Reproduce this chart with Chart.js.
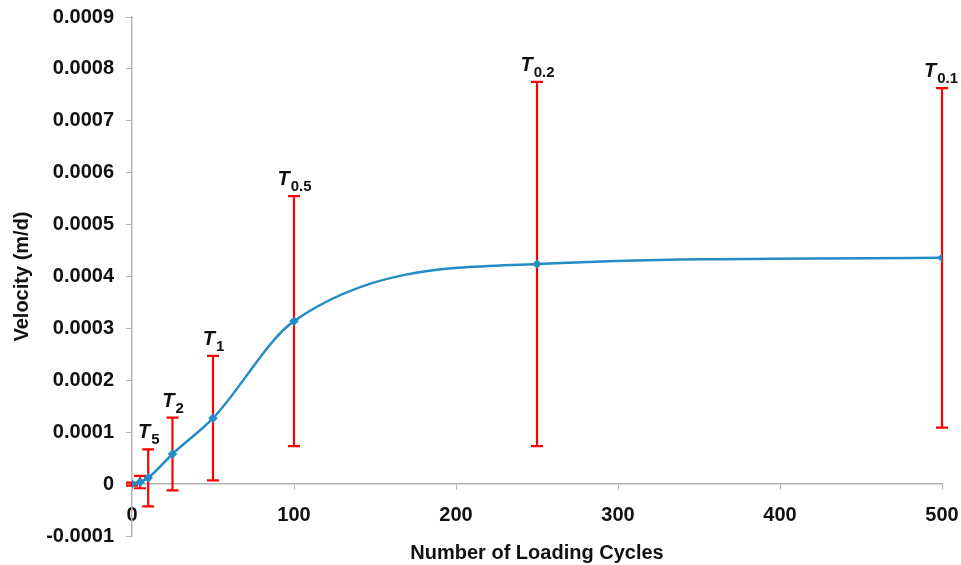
<!DOCTYPE html>
<html>
<head>
<meta charset="utf-8">
<script src="https://cdn.jsdelivr.net/npm/chart.js@4.4.1/dist/chart.umd.min.js"></script>
<style>
  body { margin: 0; background: #fff; }
  #wrap { width: 961px; height: 565px; }
</style>
</head>
<body>
<div id="wrap"><canvas id="velocity-chart"></canvas></div>
<script>
var cycles = [0, 5, 10, 25, 50, 100, 250, 500];
var velocity = [0, 0.000004, 0.000012, 0.000058, 0.000127, 0.000314, 0.000424, 0.000436];
var velocityError = [0.000003, 0.000012, 0.000055, 0.00007, 0.00012, 0.000241, 0.000351, 0.000327];
var periodLabels = ['', '', '5', '2', '1', '0.5', '0.2', '0.1'];

var xTicks = [0, 100, 200, 300, 400, 500];
var yTicks = [-0.0001, 0, 0.0001, 0.0002, 0.0003, 0.0004, 0.0005, 0.0006, 0.0007, 0.0008, 0.0009];

var fontFamily = '"Liberation Sans", Arial, sans-serif';
var axisGray = '#b3b3b3';

// red error bars under the curve, T labels above each bar
var errorBars = {
    id: 'errorBars',
    beforeDatasetsDraw: function (chart) {
        var ctx = chart.ctx;
        var xs = chart.scales.x;
        var ys = chart.scales.y;
        ctx.save();
        ctx.strokeStyle = '#ff0000';
        ctx.lineWidth = 2.2;
        cycles.forEach(function (c, i) {
            var px = xs.getPixelForValue(c);
            var top = ys.getPixelForValue(velocity[i] + velocityError[i]);
            var bot = ys.getPixelForValue(velocity[i] - velocityError[i]);
            ctx.beginPath();
            ctx.moveTo(px, top);
            ctx.lineTo(px, bot);
            ctx.moveTo(px - 6, top);
            ctx.lineTo(px + 6, top);
            ctx.moveTo(px - 6, bot);
            ctx.lineTo(px + 6, bot);
            ctx.stroke();
        });
        ctx.restore();
    },
    afterDraw: function (chart) {
        var ctx = chart.ctx;
        var xs = chart.scales.x;
        var ys = chart.scales.y;
        ctx.save();
        ctx.fillStyle = '#111';
        ctx.textBaseline = 'alphabetic';
        ctx.textAlign = 'left';
        cycles.forEach(function (c, i) {
            var sub = periodLabels[i];
            if (!sub) return;
            var px = xs.getPixelForValue(c);
            var top = ys.getPixelForValue(velocity[i] + velocityError[i]);
            ctx.font = 'italic bold 20px ' + fontFamily;
            var tw = ctx.measureText('T').width;
            ctx.font = 'bold 15px ' + fontFamily;
            var sw = ctx.measureText(sub).width;
            var start = Math.min(px - (tw + sw) / 2, chart.width - tw - sw - 4);
            ctx.font = 'italic bold 20px ' + fontFamily;
            ctx.fillText('T', start, top - 11);
            ctx.font = 'bold 15px ' + fontFamily;
            ctx.fillText(sub, start + tw + 1, top - 5);
        });
        ctx.restore();
    }
};

var ctxVel = document.querySelector('#velocity-chart').getContext('2d');

var velocityChart = new Chart(ctxVel, {
    type: 'line',
    data: {
        datasets: [{
            label: 'Velocity',
            data: cycles.map(function (c, i) { return { x: c, y: velocity[i] }; }),
            borderColor: '#248cc4',
            backgroundColor: '#248cc4',
            borderWidth: 2.5,
            pointStyle: 'rectRot',
            pointRadius: 3,
            cubicInterpolationMode: 'monotone',
            fill: false
        }]
    },
    options: {
        responsive: true,
        maintainAspectRatio: false,
        animation: false,
        layout: { padding: { top: 17, right: 19, bottom: 29, left: 0 } },
        plugins: {
            legend: { display: false },
            tooltip: { enabled: false }
        },
        scales: {
            x: {
                type: 'linear',
                position: { y: 0 },
                min: 0,
                max: 500,
                afterBuildTicks: function (scale) {
                    scale.ticks = xTicks.map(function (v) { return { value: v }; });
                },
                afterFit: function (scale) {
                    scale.paddingLeft = 0;
                    scale.paddingRight = 0;
                },
                border: { color: axisGray, width: 1.5 },
                grid: { drawOnChartArea: false, color: axisGray, tickLength: 5 },
                ticks: {
                    color: '#111',
                    padding: 14,
                    maxRotation: 0,
                    font: { family: fontFamily, size: 20, weight: 'bold' }
                },
                title: {
                    display: true,
                    text: 'Number of Loading Cycles',
                    color: '#111',
                    padding: { top: 0, bottom: 0 },
                    font: { family: fontFamily, size: 20, weight: 'bold' }
                }
            },
            y: {
                type: 'linear',
                position: 'left',
                min: -0.0001,
                max: 0.0009,
                afterBuildTicks: function (scale) {
                    scale.ticks = yTicks.map(function (v) { return { value: v }; });
                },
                afterFit: function (scale) {
                    scale.width = 132;
                    scale.paddingTop = 0;
                    scale.paddingBottom = 0;
                },
                border: { color: axisGray, width: 1.5 },
                grid: { drawOnChartArea: false, color: axisGray, tickLength: 6 },
                ticks: {
                    color: '#111',
                    padding: 12,
                    font: { family: fontFamily, size: 20, weight: 'bold' },
                    callback: function (v) {
                        return v === 0 ? '0' : v.toFixed(4);
                    }
                },
                title: {
                    display: true,
                    text: 'Velocity (m/d)',
                    color: '#111',
                    padding: { top: 10, bottom: 0 },
                    font: { family: fontFamily, size: 20, weight: 'bold' }
                }
            }
        }
    },
    plugins: [errorBars]
});
</script>
</body>
</html>
